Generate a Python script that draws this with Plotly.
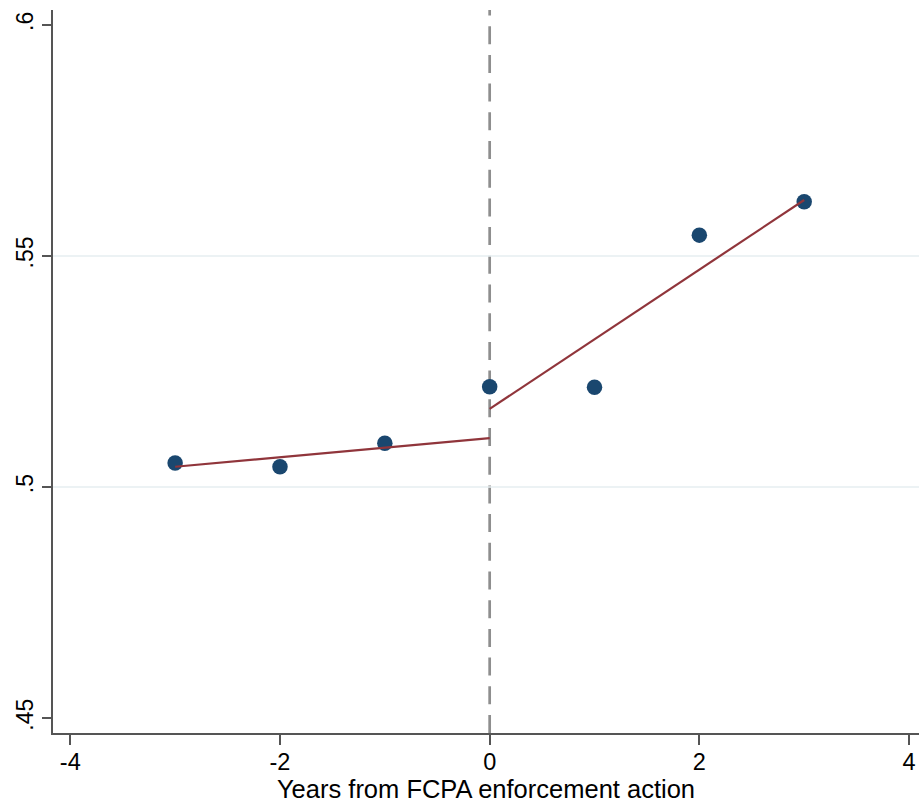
import plotly.graph_objects as go

years = [-3, -2, -1, 0, 1, 2, 3]
means = [0.5052, 0.5044, 0.5095, 0.5217, 0.5216, 0.5545, 0.5617]

fit_pre_x = [-3, 0]
fit_pre_y = [0.5044, 0.5106]
fit_post_x = [0, 3]
fit_post_y = [0.5169, 0.5621]

x_ticks = [-4, -2, 0, 2, 4]
x_tick_labels = ["-4", "-2", "0", "2", "4"]
y_ticks = [0.45, 0.5, 0.55, 0.6]
y_tick_labels = [".45", ".5", ".55", ".6"]

fig = go.Figure()

fig.add_shape(type="line", xref="x", yref="paper", x0=0, x1=0, y0=0, y1=1,
              line=dict(color="#8e8e8e", width=2.7, dash="18px,10.7px"), layer="below")

fig.add_trace(go.Scatter(x=years, y=means, mode="markers",
                         marker=dict(color="#1a476f", size=15.5), showlegend=False))
fig.add_trace(go.Scatter(x=fit_pre_x, y=fit_pre_y, mode="lines",
                         line=dict(color="#90353b", width=2.2), showlegend=False))
fig.add_trace(go.Scatter(x=fit_post_x, y=fit_post_y, mode="lines",
                         line=dict(color="#90353b", width=2.2), showlegend=False))

fig.update_layout(
    width=919, height=804,
    margin=dict(l=53, r=0, t=10, b=71),
    plot_bgcolor="white", paper_bgcolor="white",
    font=dict(family="Liberation Sans, Arial, sans-serif", size=24, color="black"),
    xaxis=dict(range=[-4.165, 4.095], tickvals=x_ticks, ticktext=x_tick_labels,
               ticks="outside", ticklen=10, automargin=False, ticklabelstandoff=-3,
               tickwidth=2, tickcolor="#555", showline=True, linecolor="#555", linewidth=2,
               showgrid=False, zeroline=False, tickfont=dict(size=23.5),
               title=dict(text="Years from FCPA enforcement action", standoff=3,
                          font=dict(size=25.5))),
    yaxis=dict(range=[0.4468, 0.6032], tickvals=y_ticks, ticktext=y_tick_labels,
               tickangle=-90, ticks="outside", ticklen=9, tickwidth=2, tickcolor="#555",
               showline=True, linecolor="#555", linewidth=2, automargin=False,
               tickfont=dict(size=23),
               showgrid=False, zeroline=False),
)

for g in [0.5, 0.55]:
    fig.add_shape(type="line", xref="paper", yref="y", x0=0, x1=1, y0=g, y1=g,
                  line=dict(color="#e6eef0", width=1.5), layer="below")

fig.write_html("out.html", config={"displayModeBar": False},
               post_script="document.body.style.margin='0';document.body.style.overflow='hidden';")
